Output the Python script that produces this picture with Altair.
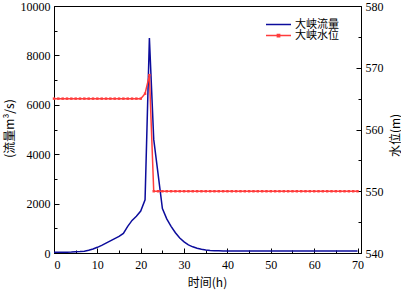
import altair as alt
import pandas as pd

hours = list(range(0, 71))
flow = [30, 30, 30, 35, 40, 50, 60, 75, 110, 160,
        230, 310, 400, 490, 580, 670, 790, 1080, 1320, 1490,
        1700, 2150, 8700, 4600, 3200, 1800, 1380, 1080, 820, 610,
        450, 330, 250, 190, 150, 125, 105, 95, 88, 84,
        82, 80, 80, 80, 80, 80, 80, 80, 80, 80,
        80, 80, 80, 80, 80, 80, 80, 80, 80, 80,
        80, 80, 80, 80, 80, 80, 80, 80, 80, 80, 80]
level = [565.0] * 21 + [565.8, 568.8] + [550.0] * 48

x_ticks = list(range(0, 71, 5))
flow_ticks = list(range(0, 10001, 1000))
level_ticks = list(range(540, 581, 5))

df = pd.DataFrame({"t": hours, "flow": flow, "level": level})

NUM = "Liberation Serif"
CJK = "Noto Sans CJK SC"
BLUE = "#0c0c9c"
RED = "#ff3c3c"

x_enc = alt.X("t:Q", scale=alt.Scale(domain=[0, 70.8], nice=False, zero=False),
              axis=alt.Axis(values=x_ticks, title="时间(h)",
                            labelExpr="datum.value % 10 === 0 ? datum.label : ''",
                            tickSize={"expr": "datum.value % 10 === 0 ? -5 : -3"},
                            labelPadding=11, titleX=153, titleY=24,
                            labelFont=NUM, labelFontSize=12,
                            grid=False))

flow_layer = alt.Chart(df).mark_line(strokeWidth=1.5, color=BLUE).encode(
    x=x_enc,
    y=alt.Y("flow:Q", scale=alt.Scale(domain=[0, 10000], nice=False),
            axis=alt.Axis(values=flow_ticks, title="(流量m³/s)", orient="left",
                          labelExpr="datum.value % 2000 === 0 ? datum.label : ''",
                          tickSize={"expr": "datum.value % 2000 === 0 ? -5 : -3"},
                          labelPadding=9, titleX=-45, titleY=122, titleAngle=-90,
                          labelFont=NUM, labelFontSize=12,
                          titleBaseline="middle", grid=False, format="d")),
    color=alt.Color("s:N", scale=alt.Scale(domain=["大峡流量"], range=[BLUE]),
                    legend=alt.Legend(title=None, orient="none", legendX=211, legendY=5,
                                      symbolType="stroke", symbolSize=625,
                                      symbolStrokeWidth=1.5)),
).transform_calculate(s="'大峡流量'")

level_layer = alt.Chart(df).mark_line(
    strokeWidth=1.5, color=RED,
    point=alt.OverlayMarkDef(shape="square", size=6, filled=True, color=RED),
).encode(
    x=x_enc,
    y=alt.Y("level:Q", scale=alt.Scale(domain=[540, 580], nice=False, zero=False),
            axis=alt.Axis(values=level_ticks, title="水位(m)", orient="right",
                          labelExpr="datum.value % 10 === 0 ? datum.label : ''",
                          tickSize={"expr": "datum.value % 10 === 0 ? -5 : -3"},
                          labelPadding=9, titleX=34, titleY=129, titleAngle=-90,
                          labelFont=NUM, labelFontSize=12,
                          titleBaseline="middle", grid=False)),
    color=alt.Color("s:N", scale=alt.Scale(domain=["大峡水位"], range=[RED]),
                    legend=alt.Legend(title=None, orient="none", legendX=211, legendY=16,
                                      symbolType="M-1,0L1,0M-0.09,-0.09L0.09,-0.09L0.09,0.09L-0.09,0.09Z",
                                      symbolSize=625, symbolStrokeWidth=1.5,
                                      symbolFillColor=RED)),
).transform_calculate(s="'大峡水位'")

chart = alt.layer(flow_layer, level_layer).resolve_scale(
    y="independent", color="independent"
).properties(
    width=307, height=247,
    autosize=alt.AutoSizeParams(type="none"),
    padding={"left": 54, "top": 6, "right": 40, "bottom": 39},
).configure_view(stroke="black", strokeWidth=1).configure_axis(
    domainColor="black", tickColor="black", labelColor="black", titleColor="black",
    labelFont=NUM, labelFontSize=12, titleFont=CJK, titleFontSize=12,
    titleFontWeight="normal", domainWidth=1, tickWidth=1, labelOverlap=False,
).configure_legend(
    labelFont=CJK, labelFontSize=11, labelColor="black", rowPadding=0,
    symbolOffset=0, padding=0, labelOffset=3,
)

chart.save("out.html", embed_options={"renderer": "svg", "actions": False})
